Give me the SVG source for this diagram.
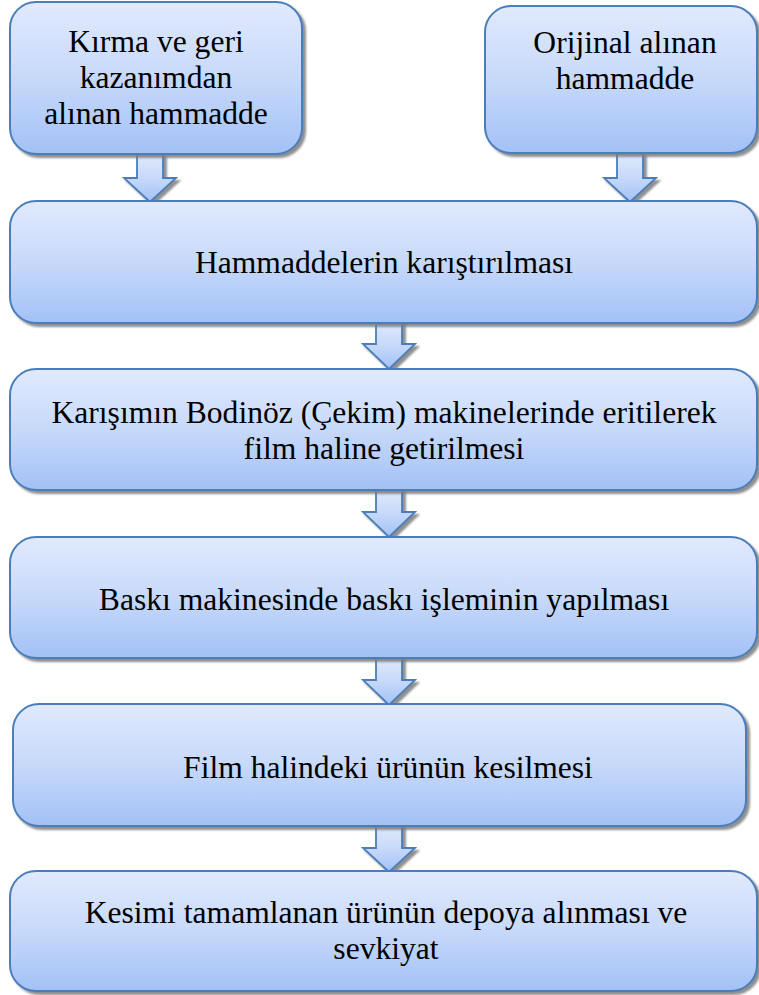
<svg xmlns="http://www.w3.org/2000/svg" width="759" height="995" viewBox="0 0 759 995">
<defs>
<linearGradient id="g" x1="0" y1="0" x2="0" y2="1">
<stop offset="0" stop-color="#e1eafd"/>
<stop offset="0.5" stop-color="#c7d9fa"/>
<stop offset="1" stop-color="#a3c1f6"/>
</linearGradient>
<filter id="sh" x="-5%" y="-5%" width="115%" height="120%">
<feDropShadow dx="3" dy="3" stdDeviation="1" flood-color="#7a7a7a" flood-opacity="0.85"/>
</filter>
</defs>
<style>
.box{fill:url(#g);stroke:#4a7ebb;stroke-width:2;filter:url(#sh)}
.arr{fill:url(#g);stroke:#4a7ebb;stroke-width:1.8;stroke-linejoin:miter;filter:url(#sh)}
.t{font-size:31.6px;fill:#000;text-anchor:middle}
</style>
<g id="connectors">
<path class="arr" d="M137,154 H163 V178 H176 L150,202 L124,178 H137 Z"/>
<path class="arr" d="M617,153 H643 V178 H656 L630,202 L604,178 H617 Z"/>
<path class="arr" d="M376,321 H402 V344 H415 L389,369 L363,344 H376 Z"/>
<path class="arr" d="M376,489 H402 V512 H415 L389,537 L363,512 H376 Z"/>
<path class="arr" d="M376,657 H402 V680 H415 L389,705 L363,680 H376 Z"/>
<path class="arr" d="M376,825 H402 V848 H415 L389,872 L363,848 H376 Z"/>
</g>
<g font-family="'Liberation Serif', 'DejaVu Serif', serif">
<g id="n1">
<rect class="box" x="10" y="2" width="292" height="152" rx="26"/>
<text class="t" x="156" y="52">Kırma ve geri</text>
<text class="t" x="156" y="88">kazanımdan</text>
<text class="t" x="156" y="124">alınan hammadde</text>
</g>
<g id="n2">
<rect class="box" x="485" y="6" width="272" height="147" rx="26"/>
<text class="t" x="625" y="53">Orijinal alınan</text>
<text class="t" x="625" y="89">hammadde</text>
</g>
<g id="n3">
<rect class="box" x="10" y="201" width="747" height="122" rx="26"/>
<text class="t" x="384" y="273">Hammaddelerin karıştırılması</text>
</g>
<g id="n4">
<rect class="box" x="10" y="369" width="747" height="121" rx="26"/>
<text class="t" x="384" y="423">Karışımın Bodinöz (Çekim) makinelerinde eritilerek</text>
<text class="t" x="384" y="459">film haline getirilmesi</text>
</g>
<g id="n5">
<rect class="box" x="10" y="537" width="747" height="121" rx="26"/>
<text class="t" x="384" y="610">Baskı makinesinde baskı işleminin yapılması</text>
</g>
<g id="n6">
<rect class="box" x="13" y="704" width="733" height="122" rx="26"/>
<text class="t" x="388" y="778">Film halindeki ürünün kesilmesi</text>
</g>
<g id="n7">
<rect class="box" x="10" y="871" width="747" height="120" rx="26"/>
<text class="t" x="386" y="923">Kesimi tamamlanan ürünün depoya alınması ve</text>
<text class="t" x="386" y="959">sevkiyat</text>
</g>
</g>
</svg>
